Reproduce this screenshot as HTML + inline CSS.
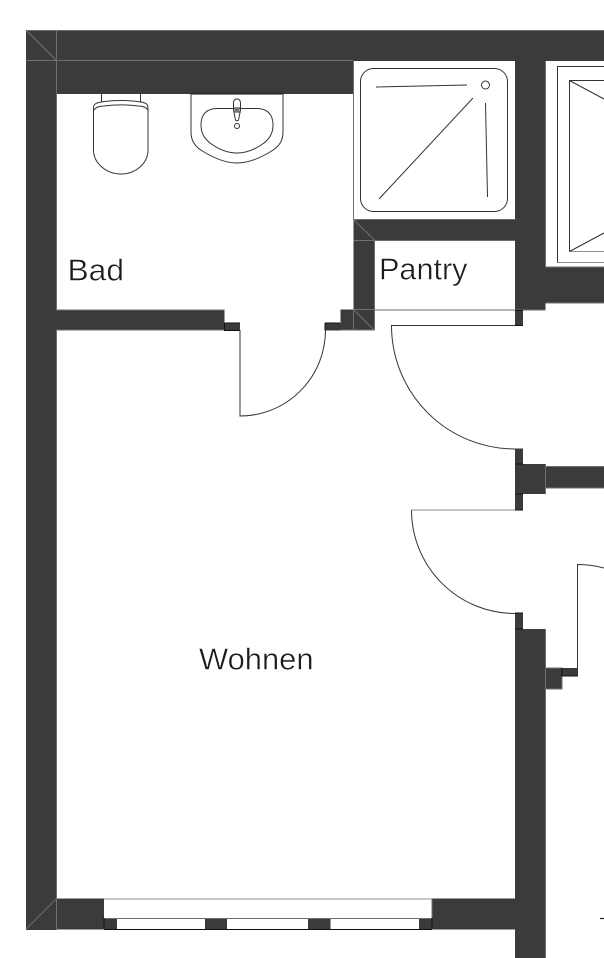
<!DOCTYPE html>
<html>
<head>
<meta charset="utf-8">
<style>
html,body{margin:0;padding:0;background:#fff;width:604px;height:958px;overflow:hidden}
svg{display:block}
text{font-family:"Liberation Sans",sans-serif;font-size:31px;fill:#1c1c1c;font-weight:400;stroke:#fff;stroke-width:.45px}
.w{fill:#3b3b3b}
.e{stroke:#6f6f6f;stroke-width:1;fill:none}
.g{stroke:#8e8e8e;stroke-width:1;fill:none}
.t{stroke:#333;stroke-width:1;fill:none}
.k{stroke:#111;stroke-width:1;fill:none}
</style>
</head>
<body>
<svg width="604" height="958" viewBox="0 0 604 958" xmlns="http://www.w3.org/2000/svg">
<rect width="604" height="958" fill="#fff"/>

<!-- walls -->
<rect class="w" x="26" y="30" width="578" height="31"/>
<rect class="w" x="26" y="30" width="30.5" height="900"/>
<rect class="w" x="56" y="60" width="297.5" height="34"/>
<rect class="w" x="515" y="60" width="30.5" height="250"/>
<rect class="w" x="545" y="267" width="59" height="36"/>
<rect class="w" x="353.5" y="219.5" width="162" height="20.5"/>
<rect class="w" x="353.5" y="219.5" width="21" height="110.5"/>
<rect class="w" x="340.5" y="309.5" width="13.5" height="20.5"/>
<rect class="w" x="56" y="310" width="168.500" height="20"/>
<rect class="w" x="224.500" y="323" width="15.500" height="7.500"/>
<rect class="w" x="325" y="323" width="15.500" height="7.500"/>
<rect class="w" x="515" y="310" width="8" height="15.500"/>
<rect class="w" x="515" y="448.500" width="8" height="16"/>
<rect class="w" x="515" y="464" width="30.500" height="30"/>
<rect class="w" x="545" y="466.500" width="59" height="21.500"/>
<rect class="w" x="515" y="494" width="8" height="16"/>
<rect class="w" x="515" y="613" width="8" height="16"/>
<rect class="w" x="515" y="629" width="30.500" height="329"/>
<rect class="w" x="545" y="668" width="17" height="21"/>
<rect class="w" x="562" y="668" width="16" height="8"/>
<rect class="w" x="56" y="898.500" width="48" height="31"/>
<rect class="w" x="432" y="898.500" width="83.500" height="31"/>
<rect class="w" x="104" y="918" width="13" height="11"/>
<rect class="w" x="205" y="918" width="22" height="11"/>
<rect class="w" x="308" y="918" width="22.500" height="11"/>
<rect class="w" x="419" y="918" width="13" height="11"/>

<!-- light seams on the walls -->
<path class="e" d="M26 30.500H604M26 60.500H353.500M56.500 30V94M26 30L56 60M56.500 94V310M56.500 330V898M26 929L56 899M56.500 899V929"/>
<path class="e" d="M353.500 61V219.500H515.500M374.500 240V330M353.500 219.500L374.500 240M353.500 240.500H374.500M374.500 240.500H515M353.500 309.500H374.500M353.500 310V330M354 310L374 330M374 310H515.500M340.500 330H374.500"/>
<path class="e" d="M545.500 61V267M545.500 267H604M545.500 303H604M515.500 310H545.500M56 310H224.500M56 330H224.500"/>
<path class="e" d="M545.500 464V494M545.500 466.500H604M545.500 488H604M545.500 629V958M545.500 668H562V689H545.500"/>

<!-- jamb dark edges -->
<path class="k" d="M224.500 323V330.500H240M325 330.500V323M515 310.500H523M515 325.500H523M515 464H523M515 494H523M515 613H523M515 629H523M562 668V676H578M224.500 323H240M325 323H340M515 510H523"/>

<!-- doors -->
<path class="t" d="M240 330V416A85.500 86 0 0 0 325.500 330"/>
<path class="t" d="M515 325.500H391.500A123.500 123.500 0 0 0 515 449"/>
<path class="t" d="M411.500 510A103.500 103.500 0 0 0 515 613.500"/>
<path class="g" d="M411.500 510H515" stroke-width="1.200"/>
<path class="t" d="M577.500 668V564.500A103.500 103.500 0 0 1 604 568"/>

<!-- window -->
<path class="g" d="M104 899H432" stroke-width="1.400"/>
<path class="e" d="M104 918.500H432M432 899V918"/>
<path class="k" d="M104 929.500H432M104 918V929M432 918V929"/>
<path d="M600 918.500H604" stroke="#222" stroke-width="1.200"/>

<!-- shower -->
<rect class="t" x="360.500" y="68.500" width="147" height="143" rx="13" ry="13"/>
<path class="t" d="M376 87L467 85M379 199L473 98M485.500 103L487.500 197"/>
<circle class="t" cx="485.500" cy="85" r="4"/>

<!-- right window-like frame -->
<path class="t" d="M604 66.500H557.500V263"/>
<path class="g" d="M557.500 262.500H604M569.500 251.500H604"/>
<path class="t" d="M604 80.500H569.500V251.500M569.500 80.500L604 99M569.500 251.500L604 233"/>

<!-- toilet -->
<path class="t" d="M101.500 94V102M140.500 94V102"/>
<path class="t" d="M93.500 108C93.500 104 96 103 101 102C113 100 129 100 141 102C146 103 148 104 148 108V150C148 163 136 174 121 174C106 174 93.500 163 93.500 150Z"/>
<path class="t" d="M94 110C96 107 100 106 104 106C115 104.500 127 104.500 138 106C142 106 146 107 148 110"/>

<!-- sink -->
<path class="k" d="M191 94H283"/>
<path class="t" d="M191 94V132C191 141 195 147 204 152C214 158 226 163 237 163C248 163 260 158 270 152C279 147 283 141 283 132V94"/>
<path class="t" d="M201 125C201 114 207 108.500 217 108.500H257C267 108.500 273 114 273 125C273 133 270 138 264 143C256 149 247 153 237 153C227 153 218 149 210 143C204 138 201 133 201 125Z"/>
<path class="t" d="M233.500 103C233.500 97.500 240.500 97.500 240.500 103V110L238.500 120C238 121 236 121 235.500 120L233.500 110Z"/>
<path class="t" d="M233.500 108H240.500M234 112H240"/>
<rect x="234.500" y="108" width="5" height="4" fill="#777"/>
<circle class="t" cx="237" cy="126" r="2.500"/>

<!-- labels -->
<text x="67.500" y="280.500" textLength="56.500" lengthAdjust="spacingAndGlyphs">Bad</text>
<text x="379" y="279.500" textLength="88.500" lengthAdjust="spacingAndGlyphs">Pantry</text>
<text x="199" y="669.500" textLength="114.500" lengthAdjust="spacingAndGlyphs">Wohnen</text>
</svg>
</body>
</html>
